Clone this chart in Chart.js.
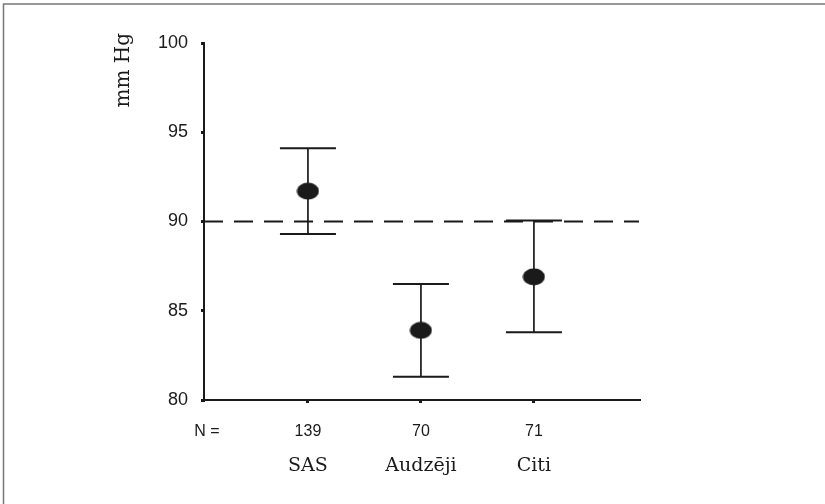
<!DOCTYPE html>
<html lang="lv">
<head>
  <meta charset="UTF-8">
  <title>mm Hg</title>
  <script src="https://cdn.jsdelivr.net/npm/chart.js"></script>
  <style>
    body {
      margin: 0;
      padding: 0;
      background: #fff;
    }
    #wrap {
      width: 825px;
      height: 504px;
    }
  </style>
</head>
<body>
  <div id="wrap">
    <canvas id="bpChart" width="825" height="504"></canvas>
  </div>

  <script>
    // Data
    const categories = ["SAS", "Audzēji", "Citi"];
    const counts = [139, 70, 71];
    const means = [91.7, 83.9, 86.9];
    const lower = [89.3, 81.3, 83.8];
    const upper = [94.1, 86.5, 90.05];
    const refLevel = 90;
    const yTicks = [80, 85, 90, 95, 100];

    const ink = "#1a1a1a";

    // filled ellipse used as the point marker
    const dot = document.createElement("canvas");
    dot.width = 23;
    dot.height = 18;
    const dctx = dot.getContext("2d");
    dctx.fillStyle = ink;
    dctx.beginPath();
    dctx.ellipse(11.5, 9, 11, 8.5, 0, 0, Math.PI * 2);
    dctx.fill();

    // frame, reference line, error bars, extra labels
    const extras = {
      id: "extras",
      beforeDatasetsDraw(chart) {
        const ctx = chart.ctx;
        const xs = chart.scales.x;
        const ys = chart.scales.y;
        const area = chart.chartArea;
        ctx.save();

        // dashed reference line
        const yRef = ys.getPixelForValue(refLevel);
        ctx.strokeStyle = ink;
        ctx.lineWidth = 2;
        ctx.setLineDash([19, 11]);
        ctx.beginPath();
        ctx.moveTo(area.left, yRef);
        ctx.lineTo(area.right, yRef);
        ctx.stroke();
        ctx.setLineDash([]);

        // error bars
        categories.forEach((c, i) => {
          const x = xs.getPixelForValue(i + 1);
          const yl = ys.getPixelForValue(lower[i]);
          const yu = ys.getPixelForValue(upper[i]);
          ctx.lineWidth = 1.7;
          ctx.beginPath();
          ctx.moveTo(x, yl);
          ctx.lineTo(x, yu);
          ctx.stroke();
          ctx.lineWidth = 2;
          ctx.beginPath();
          ctx.moveTo(x - 28, yu);
          ctx.lineTo(x + 28, yu);
          ctx.moveTo(x - 28, yl);
          ctx.lineTo(x + 28, yl);
          ctx.stroke();
        });
        ctx.restore();
      },
      afterDraw(chart) {
        const ctx = chart.ctx;
        const xs = chart.scales.x;
        ctx.save();

        // outer frame (top and left only)
        ctx.strokeStyle = "#777";
        ctx.lineWidth = 1.5;
        ctx.beginPath();
        ctx.moveTo(3.5, 504);
        ctx.lineTo(3.5, 4);
        ctx.lineTo(825, 4);
        ctx.stroke();

        // N row
        ctx.fillStyle = ink;
        ctx.font = "16px 'Liberation Sans', Arial, sans-serif";
        ctx.textAlign = "center";
        ctx.textBaseline = "middle";
        ctx.fillText("N =", 207, 432);
        counts.forEach((n, i) => {
          ctx.fillText(String(n), xs.getPixelForValue(i + 1), 432);
        });

        // y title
        ctx.font = "20px 'DejaVu Serif', serif";
        ctx.translate(124, 33);
        ctx.rotate(-Math.PI / 2);
        ctx.textAlign = "right";
        ctx.textBaseline = "middle";
        ctx.fillText("mm Hg", 0, 0);
        ctx.restore();
      }
    };

    const ctx = document.getElementById("bpChart").getContext("2d");
    const bpChart = new Chart(ctx, {
      type: "scatter",
      data: {
        datasets: [{
          data: means.map((m, i) => ({ x: i + 1, y: m })),
          pointStyle: dot,
          pointRadius: 10,
          pointHoverRadius: 10
        }]
      },
      options: {
        responsive: false,
        animation: false,
        layout: { padding: { left: 0, top: 43, right: 186, bottom: 0 } },
        plugins: {
          legend: { display: false },
          tooltip: { enabled: false }
        },
        scales: {
          x: {
            type: "linear",
            min: 0.08,
            max: 3.93,
            afterBuildTicks(scale) {
              scale.ticks = categories.map((c, i) => ({ value: i + 1 }));
            },
            afterFit(scale) { scale.height = 104; },
            border: { color: ink, width: 2 },
            grid: { drawOnChartArea: false, drawTicks: true, tickLength: 3, color: ink, lineWidth: 3 },
            ticks: {
              callback: (v) => categories[v - 1],
              padding: 52,
              color: ink,
              font: { family: "'DejaVu Serif', serif", size: 19 },
              maxRotation: 0
            }
          },
          y: {
            min: 80,
            max: 100,
            afterBuildTicks(scale) {
              scale.ticks = yTicks.map(v => ({ value: v }));
            },
            afterFit(scale) { scale.width = 204; },
            border: { color: ink, width: 2 },
            grid: { drawOnChartArea: false, drawTicks: true, tickLength: 3, color: ink, lineWidth: 3 },
            ticks: {
              padding: 13,
              color: ink,
              font: { family: "'Liberation Sans', Arial, sans-serif", size: 18 }
            }
          }
        }
      },
      plugins: [extras]
    });
  </script>
</body>
</html>
